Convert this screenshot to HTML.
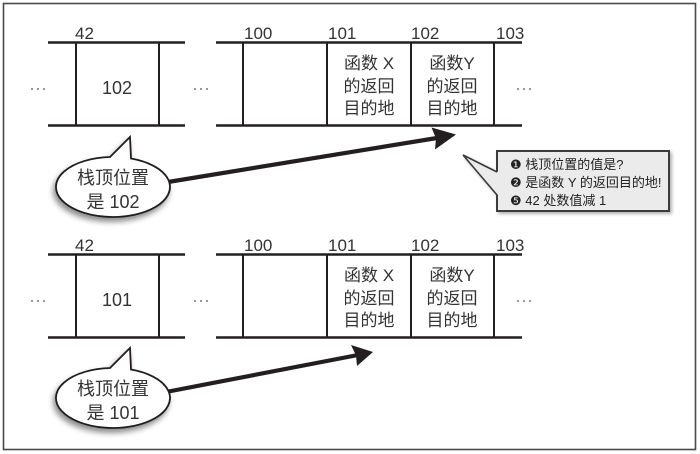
<!DOCTYPE html>
<html><head><meta charset="utf-8">
<style>
html,body{margin:0;padding:0;background:#fff;}
svg{display:block;}
text{font-family:"Liberation Sans","Noto Sans CJK SC",sans-serif;fill:#333;}
</style></head>
<body>
<svg width="700" height="454" viewBox="0 0 700 454" xmlns="http://www.w3.org/2000/svg">
<defs>
<filter id="sh" x="-30%" y="-30%" width="160%" height="170%">
<feDropShadow dx="-2" dy="4" stdDeviation="3" flood-color="#000" flood-opacity="0.45"/>
</filter>
<filter id="sh2" x="-10%" y="-10%" width="130%" height="140%">
<feDropShadow dx="2" dy="2" stdDeviation="1.5" flood-color="#000" flood-opacity="0.3"/>
</filter>
<g id="dots" fill="#777">
<circle cx="-6" cy="0" r="1"/><circle cx="0" cy="0" r="1"/><circle cx="6" cy="0" r="1"/>
</g>
</defs>
<rect x="3.5" y="3.5" width="692" height="446" fill="#fff" stroke="#4a4a4a" stroke-width="1.6"/>

<!-- ROW 1 -->
<g stroke="#231f20" stroke-width="2.4" fill="none">
<line x1="48" y1="42.5" x2="185" y2="42.5"/>
<line x1="48" y1="125.5" x2="185" y2="125.5"/>
<line x1="76" y1="42.5" x2="76" y2="125.5" stroke-width="2"/>
<line x1="159" y1="42.5" x2="159" y2="125.5" stroke-width="2"/>
<line x1="216" y1="42.5" x2="522" y2="42.5"/>
<line x1="216" y1="125.5" x2="522" y2="125.5"/>
<line x1="243" y1="42.5" x2="243" y2="125.5" stroke-width="2"/>
<line x1="327" y1="42.5" x2="327" y2="125.5" stroke-width="2"/>
<line x1="411" y1="42.5" x2="411" y2="125.5" stroke-width="2"/>
<line x1="494" y1="42.5" x2="494" y2="125.5" stroke-width="2"/>
</g>
<g font-size="17">
<text x="75" y="39">42</text>
<text x="244" y="39">100</text>
<text x="328" y="39">101</text>
<text x="411" y="39">102</text>
<text x="496" y="39">103</text>
</g>
<use href="#dots" x="38" y="89"/>
<use href="#dots" x="201" y="89"/>
<use href="#dots" x="524" y="89"/>
<text x="117" y="94" font-size="18" text-anchor="middle">102</text>
<g font-size="17" text-anchor="middle">
<text x="369" y="69">函数 X</text>
<text x="369" y="92">的返回</text>
<text x="369" y="114">目的地</text>
<text x="452" y="69">函数Y</text>
<text x="452" y="92">的返回</text>
<text x="452" y="114">目的地</text>
</g>

<!-- ROW 2 -->
<g transform="translate(0,212)">
<g stroke="#231f20" stroke-width="2.4" fill="none">
<line x1="48" y1="42.5" x2="185" y2="42.5"/>
<line x1="48" y1="125.5" x2="185" y2="125.5"/>
<line x1="76" y1="42.5" x2="76" y2="125.5" stroke-width="2"/>
<line x1="159" y1="42.5" x2="159" y2="125.5" stroke-width="2"/>
<line x1="216" y1="42.5" x2="522" y2="42.5"/>
<line x1="216" y1="125.5" x2="522" y2="125.5"/>
<line x1="243" y1="42.5" x2="243" y2="125.5" stroke-width="2"/>
<line x1="327" y1="42.5" x2="327" y2="125.5" stroke-width="2"/>
<line x1="411" y1="42.5" x2="411" y2="125.5" stroke-width="2"/>
<line x1="494" y1="42.5" x2="494" y2="125.5" stroke-width="2"/>
</g>
<g font-size="17">
<text x="75" y="39">42</text>
<text x="244" y="39">100</text>
<text x="328" y="39">101</text>
<text x="411" y="39">102</text>
<text x="496" y="39">103</text>
</g>
<use href="#dots" x="38" y="89"/>
<use href="#dots" x="201" y="89"/>
<use href="#dots" x="524" y="89"/>
<text x="117" y="94" font-size="18" text-anchor="middle">101</text>
<g font-size="17" text-anchor="middle">
<text x="369" y="69">函数 X</text>
<text x="369" y="92">的返回</text>
<text x="369" y="114">目的地</text>
<text x="452" y="69">函数Y</text>
<text x="452" y="92">的返回</text>
<text x="452" y="114">目的地</text>
</g>
</g>

<!-- ARROW 1 -->
<line x1="168" y1="182" x2="440" y2="137.5" stroke="#231f20" stroke-width="4.2"/>
<polygon points="456,134.5 431.5,127.5 436,138.5 435,149.5" fill="#231f20"/>
<!-- ARROW 2 -->
<line x1="166" y1="392" x2="358" y2="355" stroke="#231f20" stroke-width="4.2"/>
<polygon points="373,352 351,345 356,355.5 357,366" fill="#231f20"/>

<!-- CALLOUT 1 -->
<path d="M131 158.5 A57 30 0 1 1 110 157 L130 137 Z" fill="#fff" stroke="#231f20" stroke-width="1.8" filter="url(#sh)"/>
<g font-size="18" text-anchor="middle">
<text x="113" y="184">栈顶位置</text>
<text x="113" y="208">是 102</text>
</g>
<!-- CALLOUT 2 -->
<g transform="translate(0,211)">
<path d="M131 158.5 A57 30 0 1 1 110 157 L130 137 Z" fill="#fff" stroke="#231f20" stroke-width="1.8" filter="url(#sh)"/>
<g font-size="18" text-anchor="middle">
<text x="113" y="184">栈顶位置</text>
<text x="113" y="208">是 101</text>
</g>
</g>

<!-- INFO BOX -->
<g filter="url(#sh2)">
<rect x="497" y="151" width="172" height="60" fill="#ebebeb" stroke="#3a3a3a" stroke-width="2"/>
<polygon points="498,172 463,155 498,195" fill="#ebebeb"/>
<polyline points="497,172 463,155 497,195" fill="none" stroke="#3a3a3a" stroke-width="1.6"/>
</g>
<g font-size="13">
<text x="510" y="169" style="fill:#222"><tspan font-family="DejaVu Sans" font-size="13">❶</tspan> 栈顶位置的值是?</text>
<text x="510" y="187" style="fill:#222"><tspan font-family="DejaVu Sans" font-size="13">❷</tspan> 是函数 Y 的返回目的地!</text>
<text x="510" y="205" style="fill:#222"><tspan font-family="DejaVu Sans" font-size="13">❺</tspan> 42 处数值减 1</text>
</g>
</svg>
</body></html>
